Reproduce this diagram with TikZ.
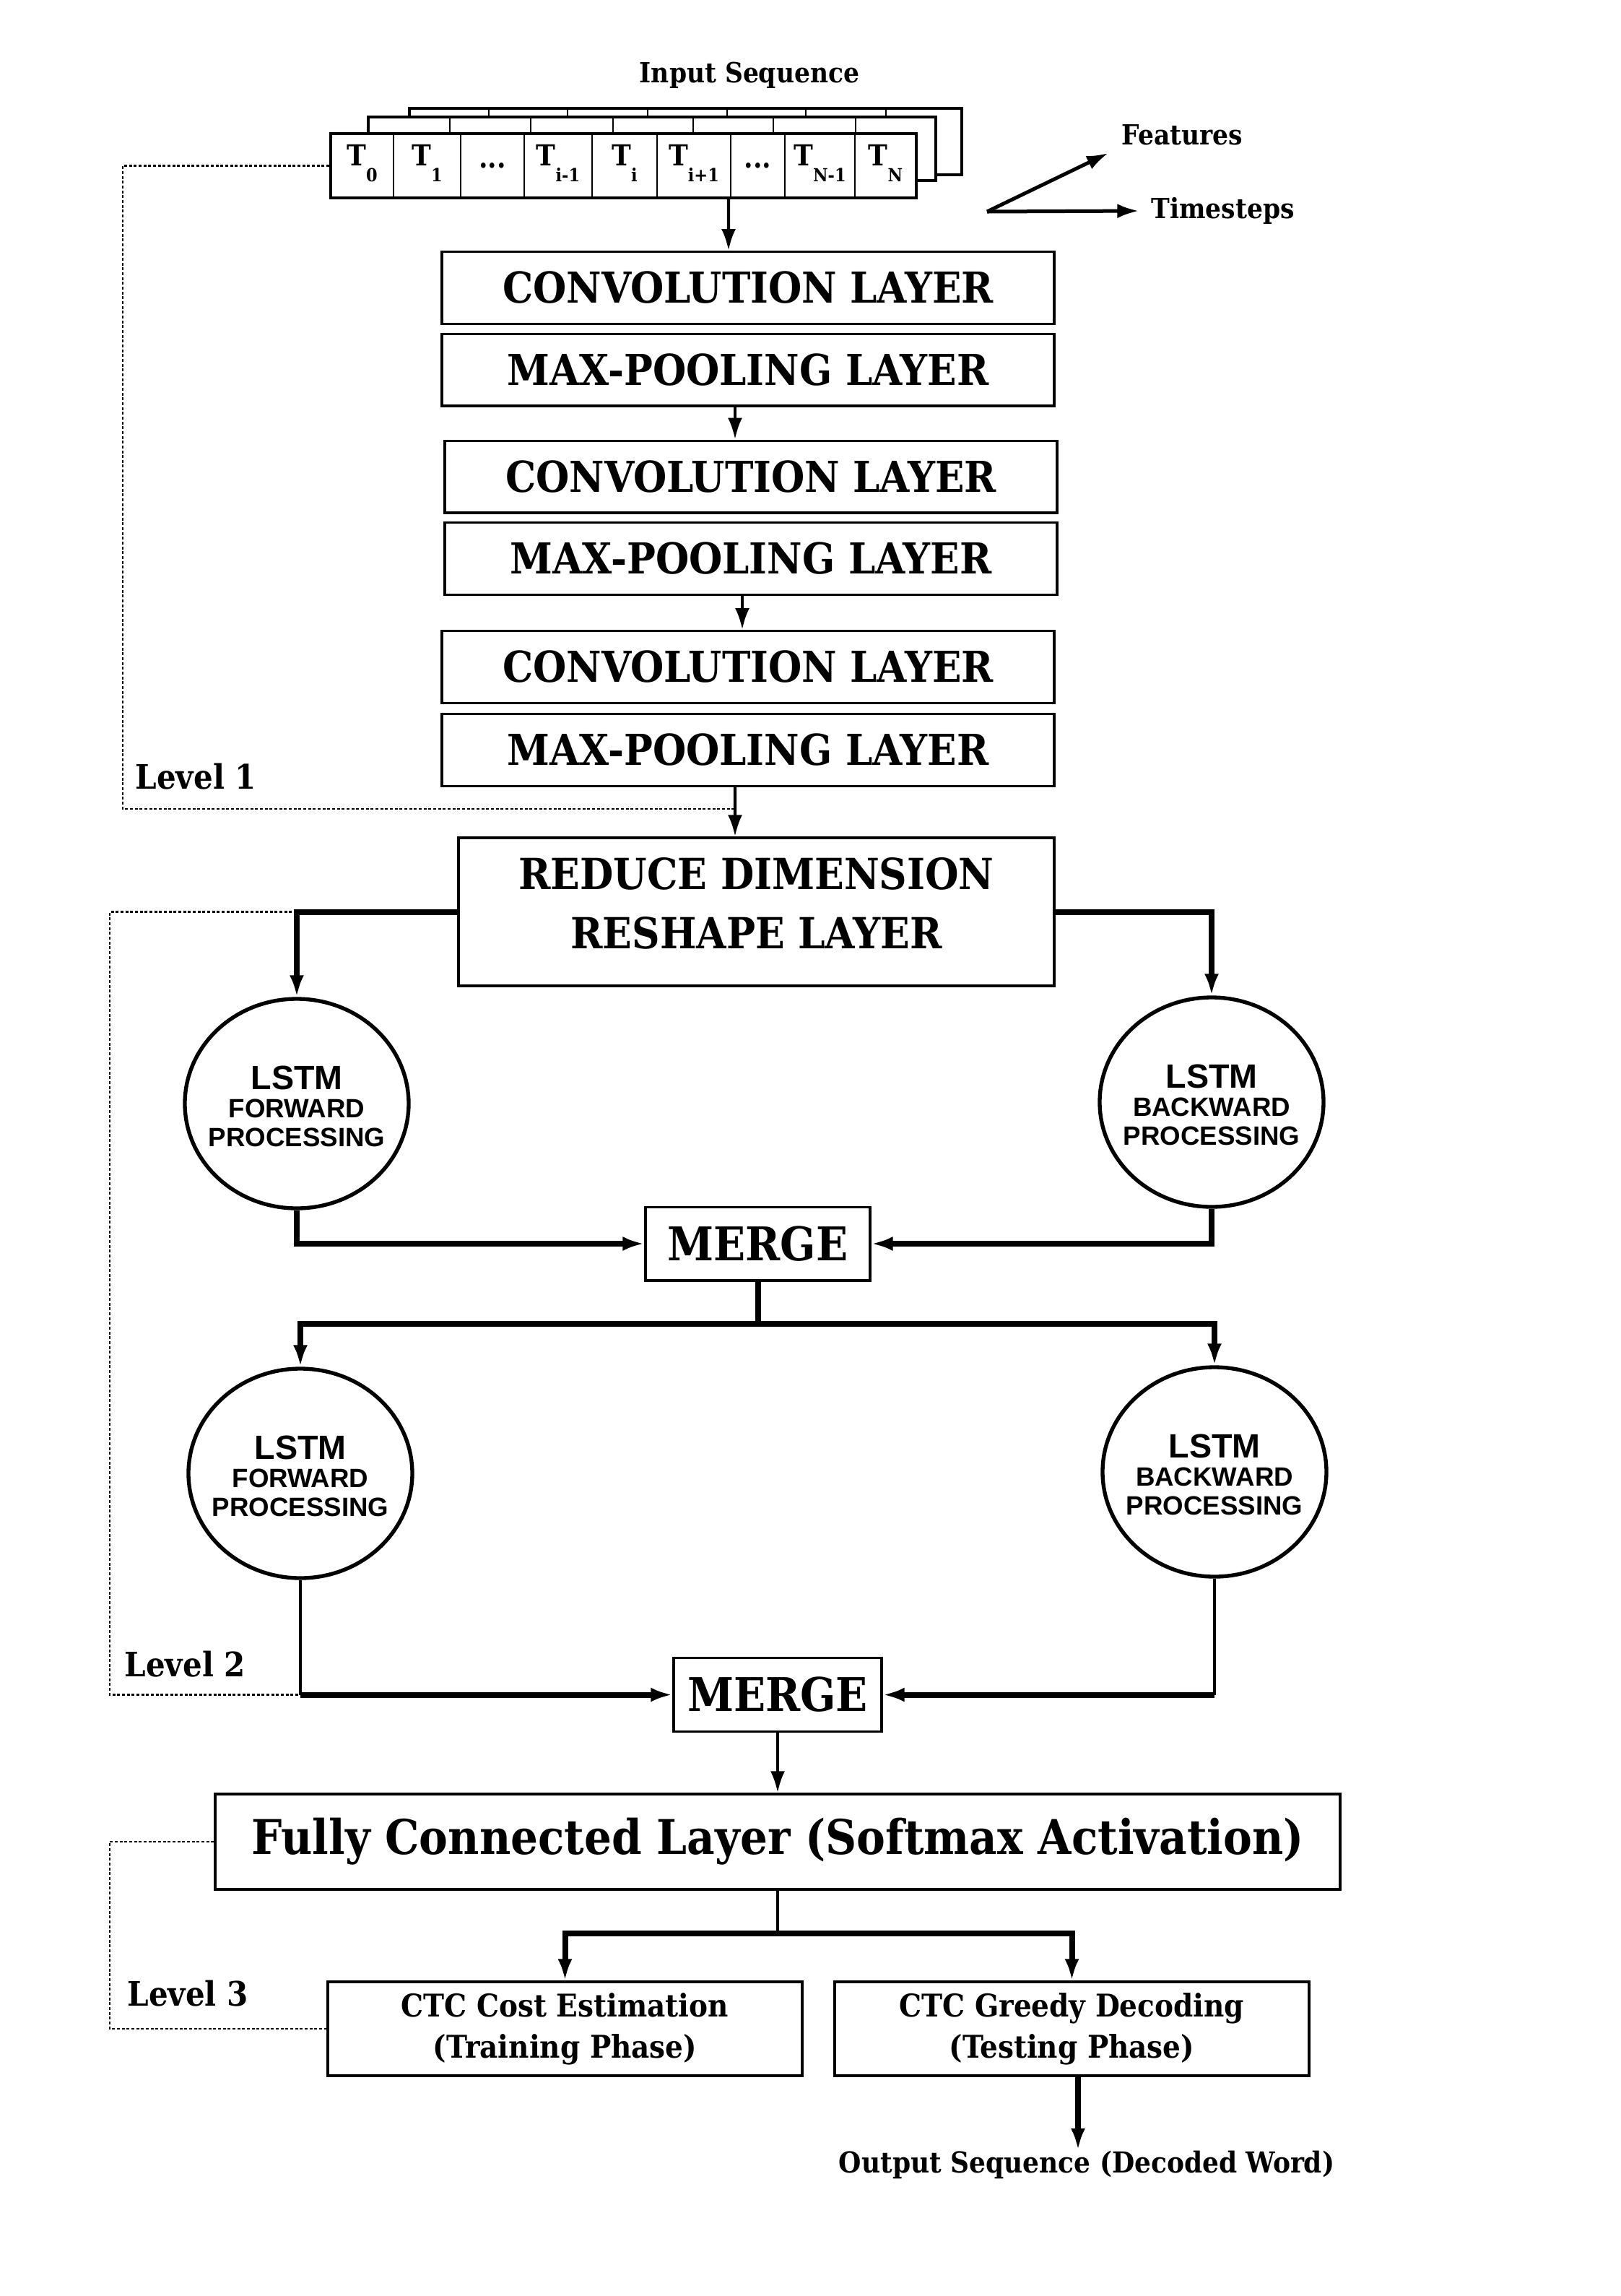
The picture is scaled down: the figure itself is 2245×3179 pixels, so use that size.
\documentclass[tikz,border=0pt]{standalone}
\usepackage{fontspec}
\newfontfamily\dscb{DejaVu Serif Condensed Bold}
\newfontfamily\lsans{Liberation Sans Bold}
\usetikzlibrary{arrows.meta,shapes.geometric}
\newcommand\fs[2]{\fontsize{#1}{#2}\selectfont}
\newcommand\subt[1]{\raisebox{-6.5pt}{\fs{7.5}{9}#1}}
\begin{document}
\begin{tikzpicture}[x=0.3pt,y=-0.3pt,
  layerbox/.style={draw,line width=1pt,inner sep=0pt,minimum width=254.4pt,minimum height=29.9pt,font=\dscb\fs{17.7}{21}},
  mergebox/.style={draw,line width=1pt,inner sep=0pt,minimum height=30.5pt,font=\dscb\fs{19.3}{24}},
  ctcbox/.style={draw,line width=1pt,inner sep=0pt,minimum width=197.1pt,minimum height=39pt,align=center,font=\dscb\fs{13}{17}},
  lstm/.style={ellipse,draw,line width=1.6pt,minimum width=93pt,minimum height=87pt,inner sep=0pt},
  lstmtext/.style={inner sep=0pt,align=center},
  plain/.style={inner sep=0pt,font=\dscb\fs{11.5}{14}},
  lvl/.style={inner sep=0pt,anchor=west,font=\dscb\fs{14}{16}},
  tlabel/.style={inner sep=0pt,font=\dscb\fs{12}{14}},
  arr/.style={-{Latex[length=9pt,width=6pt]}},
  conn/.style={line width=1.3pt},
  tconn/.style={line width=2.4pt},
  dotline/.style={line width=0.7pt,dash pattern=on 1.2pt off 0.8pt},
]
\useasboundingbox (0,0) rectangle (2245,3179);

% input sequence stack
\node[plain] (title) at (1038,104) {Input Sequence};
\draw[line width=1pt,fill=white] (567,150) rectangle (1332,242);
\foreach \x in {677,786,897,1007,1116,1227} \draw[line width=0.8pt] (\x,150) -- (\x,162);
\draw[line width=1pt,fill=white] (510,162) rectangle (1296,250);
\foreach \x in {623,735,849,960,1071,1185} \draw[line width=0.8pt] (\x,162) -- (\x,185);
\node[draw,line width=1.2pt,fill=white,inner sep=0pt,minimum width=243.3pt,minimum height=26.7pt] (front) at (863.5,229.5) {};
\foreach \x in {545,638,726,820,910,1012,1087,1184} \draw[line width=0.8pt] (\x,185) -- (\x,274);
\node[tlabel] (t0) at (501.5,226) {T\subt{0}};
\node[tlabel] (t1) at (591.5,226) {T\subt{1}};
\node[tlabel] (t2) at (682,229) {...};
\node[tlabel] (t3) at (773,226) {T\subt{i-1}};
\node[tlabel] (t4) at (865,226) {T\subt{i}};
\node[tlabel] (t5) at (961,226) {T\subt{i+1}};
\node[tlabel] (t6) at (1049.5,229) {...};
\node[tlabel] (t7) at (1135.5,226) {T\subt{N-1}};
\node[tlabel] (t8) at (1226.5,226) {T\subt{N}};

% axes
\coordinate (ax) at (1367,293);
\node[plain,anchor=west] (feat) at (1553,187) {Features};
\node[plain,anchor=west] (tsteps) at (1594,292) {Timesteps};
\draw[line width=1.5pt,arr] (ax) -- ([xshift=-5.4pt,yshift=-3pt]feat.south west);
\draw[line width=1.5pt,arr] (ax) -- ([xshift=-5pt]tsteps.west);

% CNN layers
\node[layerbox] (conv1) at (1036,398.5) {CONVOLUTION LAYER};
\node[layerbox] (mp1) at (1036,512) {MAX-POOLING LAYER};
\node[layerbox] (conv2) at (1040,660) {CONVOLUTION LAYER};
\node[layerbox] (mp2) at (1040,773.5) {MAX-POOLING LAYER};
\node[layerbox] (conv3) at (1036,923.5) {CONVOLUTION LAYER};
\node[layerbox] (mp3) at (1036,1038.5) {MAX-POOLING LAYER};
\node[draw,line width=1pt,inner sep=0pt,minimum width=247.5pt,minimum height=61.5pt] (reduce) at (1047.5,1262.5) {};
\node[inner sep=0pt,align=center,font=\dscb\fs{17.8}{24.5}] (reducetext) at (1047.5,1251) {REDUCE DIMENSION\\RESHAPE LAYER};

\draw[conn,arr] ([xshift=43.65pt]front.south) -- ([xshift=-8.1pt]conv1.north);
\draw[conn,arr] ([xshift=-5.4pt]mp1.south) -- ([xshift=-6.6pt]conv2.north);
\draw[conn,arr] ([xshift=-3.6pt]mp2.south) -- ([xshift=-2.4pt]conv3.north);
\draw[conn,arr] ([xshift=-5.4pt]mp3.south) -- ([xshift=-8.85pt]reduce.north);

% level 1
\node[lvl] (lv1) at (187,1075) {Level 1};
\coordinate (l1a) at (170,229.5);
\coordinate (l1b) at (170,1120);
\coordinate (l1c) at (1017,1120);
\draw[dotline] (front.west) -- (l1a) -- (l1b) -- (l1c);

% LSTM level
\node[lstm] (lstm1) at (411,1528) {};
\node[lstmtext] (lstm1t) at (411,1532) {\lsans\fs{14}{16}LSTM\\[-0.5pt]\lsans\fs{11}{13.5}FORWARD\\\lsans\fs{11}{13.5}PROCESSING};
\node[lstm] (lstm2) at (1678,1526) {};
\node[lstmtext] (lstm2t) at (1678,1530) {\lsans\fs{14}{16}LSTM\\[-0.5pt]\lsans\fs{11}{13.5}BACKWARD\\\lsans\fs{11}{13.5}PROCESSING};
\node[mergebox,minimum width=93.3pt] (merge1) at (1049.5,1722) {MERGE};
\node[lstm] (lstm3) at (416,2040) {};
\node[lstmtext] (lstm3t) at (416,2044) {\lsans\fs{14}{16}LSTM\\[-0.5pt]\lsans\fs{11}{13.5}FORWARD\\\lsans\fs{11}{13.5}PROCESSING};
\node[lstm] (lstm4) at (1682,2038) {};
\node[lstmtext] (lstm4t) at (1682,2042) {\lsans\fs{14}{16}LSTM\\[-0.5pt]\lsans\fs{11}{13.5}BACKWARD\\\lsans\fs{11}{13.5}PROCESSING};
\node[mergebox,minimum width=86.4pt] (merge2) at (1077,2346.5) {MERGE};

% level 2 dotted
\node[lvl] (lv2) at (172,2304) {Level 2};
\coordinate (l2a) at (152,1262.5);
\coordinate (l2b) at (152,2346.5);
\draw[dotline] (lstm1.north |- reduce.west) -- (l2a) -- (l2b) -- (lstm3.south |- merge2.west);

\draw[tconn,arr] (reduce.west) -| (lstm1.north);
\draw[tconn,arr] (reduce.east) -| (lstm2.north);
\draw[tconn,arr] (lstm1.south) |- (merge1.west);
\draw[tconn,arr] (lstm2.south) |- (merge1.east);
\coordinate (s1) at (1049.5,1833);
\draw[tconn] (merge1.south) -- (s1);
\draw[tconn,arr] (s1) -| (lstm3.north);
\draw[tconn,arr] (s1) -| (lstm4.north);
\draw[conn] (lstm3.south) -- (lstm3.south |- merge2.west);
\draw[tconn,arr] (lstm3.south |- merge2.west) -- (merge2.west);
\draw[conn] (lstm4.south) -- (lstm4.south |- merge2.east);
\draw[tconn,arr] (lstm4.south |- merge2.east) -- (merge2.east);

% FC and CTC
\node[draw,line width=1pt,inner sep=0pt,minimum width=467.4pt,minimum height=39.6pt,font=\dscb\fs{19.9}{23}] (fc) at (1077,2550) {Fully Connected Layer (Softmax Activation)};
\draw[conn,arr] (merge2.south) -- (merge2.south |- fc.north);
\node[ctcbox] (ctc1) at (782.5,2809) {CTC Cost Estimation\\(Training Phase)};
\node[ctcbox] (ctc2) at (1484.5,2809) {CTC Greedy Decoding\\(Testing Phase)};
\coordinate (s2) at (1077,2677);
\draw[conn] (fc.south) -- (s2);
\draw[tconn,arr] (s2) -| (ctc1.north);
\draw[tconn,arr] (s2) -| (ctc2.north);
\node[plain,font=\dscb\fs{12}{14}] (out) at (1505,2997) {Output Sequence (Decoded Word)};
\draw[tconn,arr] ([xshift=2.55pt]ctc2.south) -- ([xshift=2.55pt]ctc2.south |- out.north);

% level 3
\node[lvl] (lv3) at (176,2760) {Level 3};
\coordinate (l3a) at (152,2550);
\coordinate (l3b) at (152,2809);
\draw[dotline] (fc.west) -- (l3a) -- (l3b) -- (ctc1.west);
\end{tikzpicture}
\end{document}
